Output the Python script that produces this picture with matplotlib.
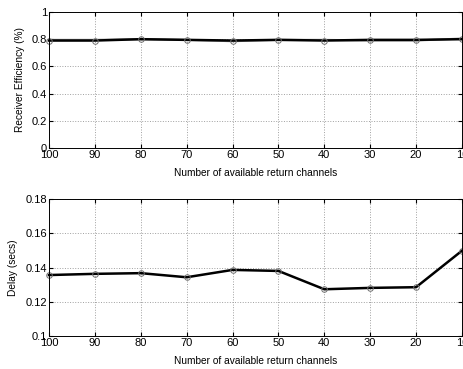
import numpy as np
import matplotlib
matplotlib.use("Agg")
import matplotlib.pyplot as plt

plt.rcParams['font.family'] = ['Liberation Sans', 'DejaVu Sans']

channels = [100, 90, 80, 70, 60, 50, 40, 30, 20, 10]
efficiency = [0.79, 0.79, 0.80, 0.795, 0.79, 0.795, 0.79, 0.795, 0.795, 0.80]
efficiency_alt = [0.795, 0.795, 0.80, 0.795, 0.785, 0.795, 0.795, 0.79, 0.79, 0.805]
delay = [0.1356, 0.1363, 0.1367, 0.1343, 0.1386, 0.1380, 0.1273, 0.1281, 0.1285, 0.1498]

xticks = [100, 90, 80, 70, 60, 50, 40, 30, 20, 10]


def style_axes(ax, ylim, yticks, ylabel):
    ax.set_xlim(100, 10)
    ax.set_ylim(*ylim)
    ax.set_xticks(xticks)
    ax.set_yticks(yticks)
    ax.set_yticklabels([f'{t:g}' for t in yticks])
    ax.set_xlabel('Number of available return channels', fontsize=7.3, labelpad=6)
    ax.set_ylabel(ylabel, fontsize=7.3, labelpad=5)
    ax.tick_params(direction='in', labelsize=8, length=3, top=True, right=True, pad=1.5)
    ax.grid(True, linestyle=':', color='#a0a0a0', linewidth=0.7)
    for s in ax.spines.values():
        s.set_linewidth(0.7)


fig = plt.figure(figsize=(4.64, 3.69), dpi=100)
ax1 = fig.add_axes([0.1056, 0.599, 0.89, 0.3685])
ax2 = fig.add_axes([0.1056, 0.0894, 0.89, 0.3713])

ax1.plot(channels, efficiency_alt, color='#909090', linewidth=1.5, clip_on=False)
ax1.plot(channels, efficiency, color='black', linewidth=1.8,
         marker='o', markersize=4, markerfacecolor='none', markeredgecolor='#707070',
         markeredgewidth=0.7, clip_on=False)
style_axes(ax1, (0, 1), [0, 0.2, 0.4, 0.6, 0.8, 1], 'Receiver Efficiency (%)')

ax2.plot(channels, delay, color='black', linewidth=1.8,
         marker='o', markersize=4, markerfacecolor='none', markeredgecolor='#707070',
         markeredgewidth=0.7, clip_on=False)
style_axes(ax2, (0.1, 0.18), [0.1, 0.12, 0.14, 0.16, 0.18], 'Delay (secs)')

fig.savefig('out.png', dpi=100)
